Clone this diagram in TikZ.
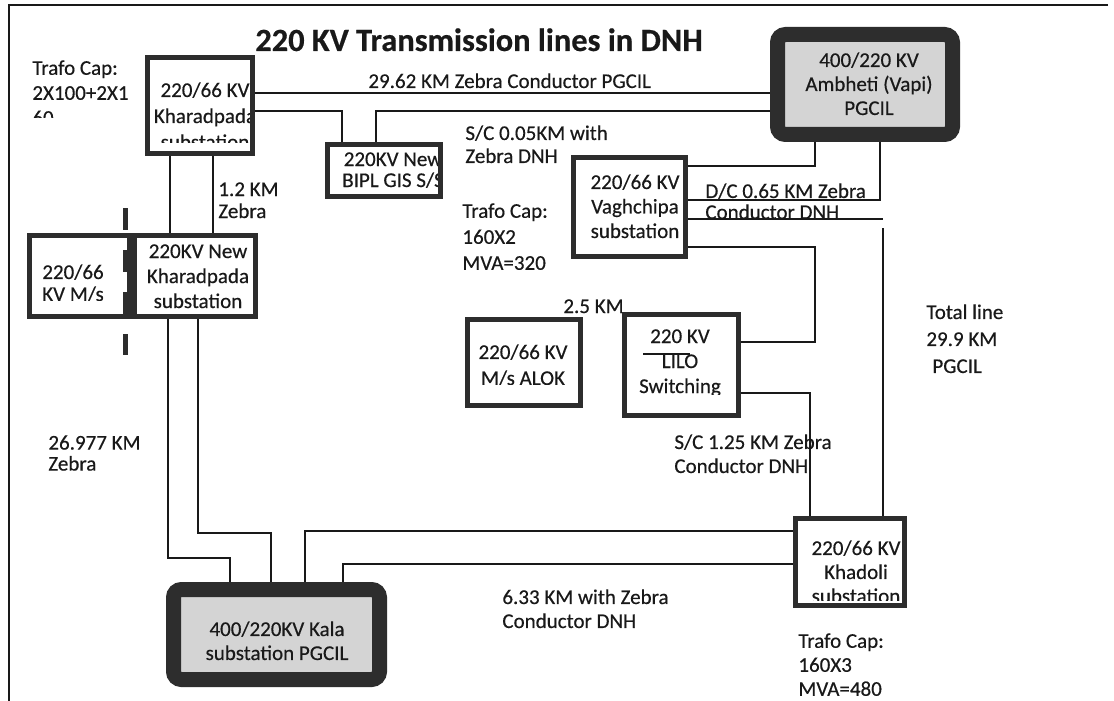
\documentclass[tikz,border=0pt]{standalone}
\usepackage{fontspec}
\setmainfont{Carlito}[FakeBold=0.4]
\usetikzlibrary{calc}
\definecolor{inkdark}{RGB}{25,25,25}
\definecolor{boxedge}{RGB}{45,45,45}
\definecolor{boxfill}{RGB}{212,212,212}
\tikzset{
    lab/.style={
        font=\fontsize{10.5}{12.5}\selectfont, text=inkdark, inner sep=0pt
    }
}

\begin{document}
\begin{tikzpicture}[x=0.5pt,y=-0.5pt, line cap=butt, line join=miter]

% background
\fill[white] (0,0) rectangle (1114,701);
\useasboundingbox (0,0) rectangle (1114,701);

\tikzset{
  wire/.style={draw=inkdark, line width=0.85pt},
  ssbox/.style={rectangle, draw=boxedge, line width=2.5pt, inner sep=0pt},
  pgbox/.style={rectangle, rounded corners=4pt, draw=boxedge, fill=boxfill, line width=7.5pt, inner sep=0pt},
  txt/.style={lab, align=center, anchor=north, font=\fontsize{10.5}{#1}\selectfont},
  txt/.default=12.5,
  ltxt/.style={lab, align=left, anchor=north west, font=\fontsize{10.5}{#1}\selectfont},
  ltxt/.default=12.5,
}

% frame
\draw[wire] (1108,5) -- (9,5) -- (9,701);

% title
\node[lab, font=\bfseries\fontsize{16.2}{19}\selectfont, anchor=base] (title) at (479,51) {220 KV Transmission lines in DNH};

% substations
\begin{scope}
  \clip (148,58) rectangle (252,143);
  \node[txt=13] (kh-t) at (205,82) {220/66 KV\\Kharadpada\\substation};
\end{scope}
\node[ssbox, minimum width=52.5pt, minimum height=48pt] (kh) at (200,105.5) {};

\begin{scope}
  \clip (328,145) rectangle (440,196);
  \node[txt=10.5] (bipl-t) at (393,152) {220KV New\\BIPL GIS S/S};
\end{scope}
\node[ssbox, minimum width=56.5pt, minimum height=26pt] (bipl) at (384,170.5) {};

\node[pgbox, minimum width=87.5pt, minimum height=50pt] (amb) at (865,84.5) {};
\node[txt=12] (amb-t) at (869,52) {400/220 KV\\Ambheti (Vapi)\\PGCIL};

\node[txt=12.25] (vag-t) at (635,174) {220/66 KV\\Vaghchipa\\substation};
\node[ssbox, minimum width=56pt, minimum height=49.5pt] (vag) at (629.5,207) {};

\begin{scope}
  \clip (30,236) rectangle (130,300);
  \node[txt=11] (ms-t) at (73,264) {220/66\\KV M/s};
\end{scope}
\node[ssbox, minimum width=50pt, minimum height=40.5pt] (ms) at (79.5,276) {};

\node[txt=12.5] (newkh-t) at (198,244) {220KV New\\Kharadpada\\substation};
\node[ssbox, minimum width=60.5pt, minimum height=40.5pt] (newkh) at (195,276) {};

\draw[draw=boxedge, line width=2.5pt, dash pattern=on 11pt off 10pt] (125,208) -- (125,355);

\begin{scope}
  \clip (468,320) rectangle (580,384);
  \node[txt=13] (alok-t) at (523,344) {220/66 KV\\M/s ALOK};
\end{scope}
\node[ssbox, minimum width=56.5pt, minimum height=43pt] (alok) at (524,362.5) {};

\begin{scope}
  \clip (625,315) rectangle (738,394);
  \node[txt=12.5] (lilo-t) at (680,329) {220 KV\\LILO\\Switching};
\end{scope}
\node[ssbox, minimum width=57pt, minimum height=50.5pt] (lilo) at (681.5,365) {};
\draw[wire, line width=0.6pt] (643,354) -- (690,354);

\begin{scope}
  \clip (796,519) rectangle (904,600);
  \node[txt=12] (khd-t) at (856,540) {220/66 KV\\Khadoli\\substation};
\end{scope}
\node[ssbox, minimum width=54.5pt, minimum height=43.5pt] (khd) at (850,562) {};

\node[pgbox, minimum width=103pt, minimum height=45pt] (kala) at (276.5,634.5) {};
\node[txt=12] (kala-t) at (277,621) {400/220KV Kala\\substation PGCIL};

% line levels
\coordinate (h93) at (0,93);
\coordinate (h111) at (0,111);
\coordinate (h166) at (0,166);
\coordinate (h200) at (0,200);
\coordinate (h219) at (0,219);
\coordinate (h228) at (0,228);
\coordinate (h247) at (0,247);
\coordinate (h342) at (0,342);
\coordinate (h393) at (0,393);
\coordinate (h531) at (0,531);
\coordinate (h533) at (0,533);
\coordinate (h558) at (0,558);
\coordinate (h564) at (0,564);
\coordinate (v168) at (168,0);
\coordinate (v170) at (170,0);
\coordinate (v198) at (198,0);
\coordinate (v213) at (213,0);
\coordinate (v230) at (230,0);
\coordinate (v271) at (271,0);
\coordinate (v305) at (305,0);
\coordinate (v342) at (342,0);
\coordinate (v343) at (343,0);
\coordinate (v376) at (376,0);
\coordinate (v810) at (810,0);
\coordinate (v815) at (815,0);
\coordinate (v880) at (880,0);
\coordinate (v883) at (883,0);

% lines
\draw[wire] (kh.east |- h93) -- (amb.west |- h93);
\draw[wire] (kh.east |- h111) -| (v342 |- bipl.north);
\draw[wire] (amb.west |- h111) -| (v376 |- bipl.north);
\draw[wire] (v815 |- amb.south) |- (vag.east |- h166);
\draw[wire] (v880 |- amb.south) |- (vag.east |- h200);
\draw[wire] (vag.east |- h219) -- (v883 |- h219);
\draw[wire] (v883 |- h228) -- (v883 |- khd.north);
\draw[wire] (vag.east |- h247) -| (v815 |- h342) -- (lilo.east |- h342);
\draw[wire] (lilo.east |- h393) -| (v810 |- khd.north);
\draw[wire] (v170 |- kh.south) -- (v170 |- newkh.north);
\draw[wire] (v213 |- kh.south) -- (v213 |- newkh.north);
\draw[wire] (v168 |- newkh.south) |- (v230 |- h558) -- (v230 |- kala.north);
\draw[wire] (v198 |- newkh.south) |- (v271 |- h533) -- (v271 |- kala.north);
\draw[wire] (v305 |- kala.north) |- (khd.west |- h531);
\draw[wire] (v343 |- kala.north) |- (khd.west |- h564);

% labels
\begin{scope}
  \clip (20,50) rectangle (140,118);
  \node[ltxt=12.5] (cap-kh) at (32,60) {Trafo Cap:\\2X100+2X1\\60};
\end{scope}
\node[lab, anchor=base west] (l-2962) at (368,88) {29.62 KM Zebra Conductor PGCIL};
\node[ltxt=11.5] (l-sc005) at (465,125) {S/C 0.05KM with\\Zebra DNH};
\node[ltxt=11] (l-12) at (218,182) {1.2 KM\\Zebra};
\node[ltxt=10.5] (l-dc) at (705,183) {D/C 0.65 KM Zebra\\Conductor DNH};
\node[ltxt=13] (cap-vag) at (462,203) {Trafo Cap:\\160X2\\MVA=320};
\node[lab, anchor=base west] (l-25) at (563,313) {2.5 KM};
\node[ltxt=13.5] (l-total) at (926,304) {Total line\\29.9 KM\\\hspace{3pt}PGCIL};
\node[ltxt=10.5] (l-26977) at (48,435) {26.977 KM\\Zebra};
\node[ltxt=12] (l-sc125) at (674,434) {S/C 1.25 KM Zebra\\Conductor DNH};
\node[ltxt=12] (l-633) at (502,589) {6.33 KM with Zebra\\Conductor DNH};
\begin{scope}
  \clip (780,620) rectangle (900,695);
  \node[ltxt=12] (cap-khd) at (798,633) {Trafo Cap:\\160X3\\MVA=480};
\end{scope}

\end{tikzpicture}
\end{document}
